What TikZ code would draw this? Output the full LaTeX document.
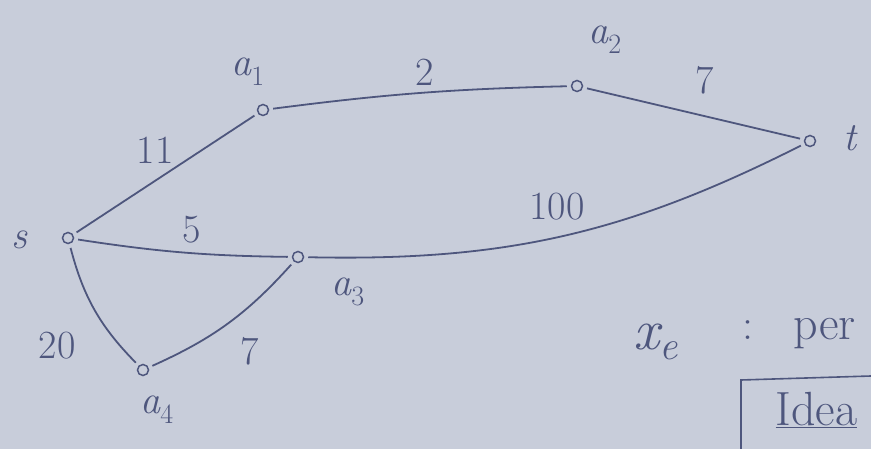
\documentclass[tikz,border=0pt]{standalone}
\definecolor{paper}{RGB}{200,205,218}
\definecolor{ink}{RGB}{78,86,125}
\begin{document}
\begin{tikzpicture}[x=1pt,y=-1pt,
  vtx/.style={circle,draw=ink,line width=1.5pt,minimum size=11pt,inner sep=0pt},
  edge/.style={draw=ink,line width=1.8pt,shorten <=4pt,shorten >=4pt},
  lbl/.style={text=ink,font=\fontsize{40}{42}\selectfont\itshape},
  wt/.style={text=ink,font=\fontsize{40}{42}\selectfont}]
\fill[paper] (0,0) rectangle (871,449);
\useasboundingbox (0,0) rectangle (871,449);
\node[vtx] (s) at (68,238) {};
\node[vtx] (a1) at (263,110) {};
\node[vtx] (a2) at (577,86) {};
\node[vtx] (t) at (810,141) {};
\node[vtx] (a3) at (298,257) {};
\node[vtx] (a4) at (143,370) {};
\node[lbl] (ls) at (20,240) {s};
\node[lbl] (la1) at (248,72) {a\textsubscript{\upshape 1}};
\node[lbl] (la2) at (605,40) {a\textsubscript{\upshape 2}};
\node[lbl] (lt) at (850,138) {t};
\node[lbl] (la3) at (348,292) {a\textsubscript{\upshape 3}};
\node[lbl] (la4) at (157,410) {a\textsubscript{\upshape 4}};
\draw[edge] (s) -- (a1);
\draw[edge] (a1) to[bend left=3] (a2);
\draw[edge] (a2) -- (t);
\draw[edge] (s) to[bend right=4] (a3);
\draw[edge] (a3) to[bend right=14] (t);
\draw[edge] (s) to[bend right=15] (a4);
\draw[edge] (a4) to[bend right=12] (a3);
\node[wt] (w1) at (155,150) {11};
\node[wt] (w2) at (425,72) {2};
\node[wt] (w3) at (705,80) {7};
\node[wt] (w4) at (192,230) {5};
\node[wt] (w5) at (557,207) {100};
\node[wt] (w6) at (57,346) {20};
\node[wt] (w7) at (250,351) {7};
\node[text=ink,font=\fontsize{58}{60}\selectfont\itshape,anchor=base west] (xe) at (630,350) {x\textsubscript{e}};
\node[text=ink,font=\fontsize{44}{46}\selectfont,anchor=base] (colon) at (748,340) {:};
\node[text=ink,font=\fontsize{48}{50}\selectfont,anchor=base west] (per) at (790,340) {per};
\node[text=ink,font=\fontsize{48}{50}\selectfont,anchor=base west] (idea) at (772,425) {\underline{Idea}};
\draw[ink,line width=1.6pt] (871,376) -- (741,380) -- (741,449);
\end{tikzpicture}
\end{document}
